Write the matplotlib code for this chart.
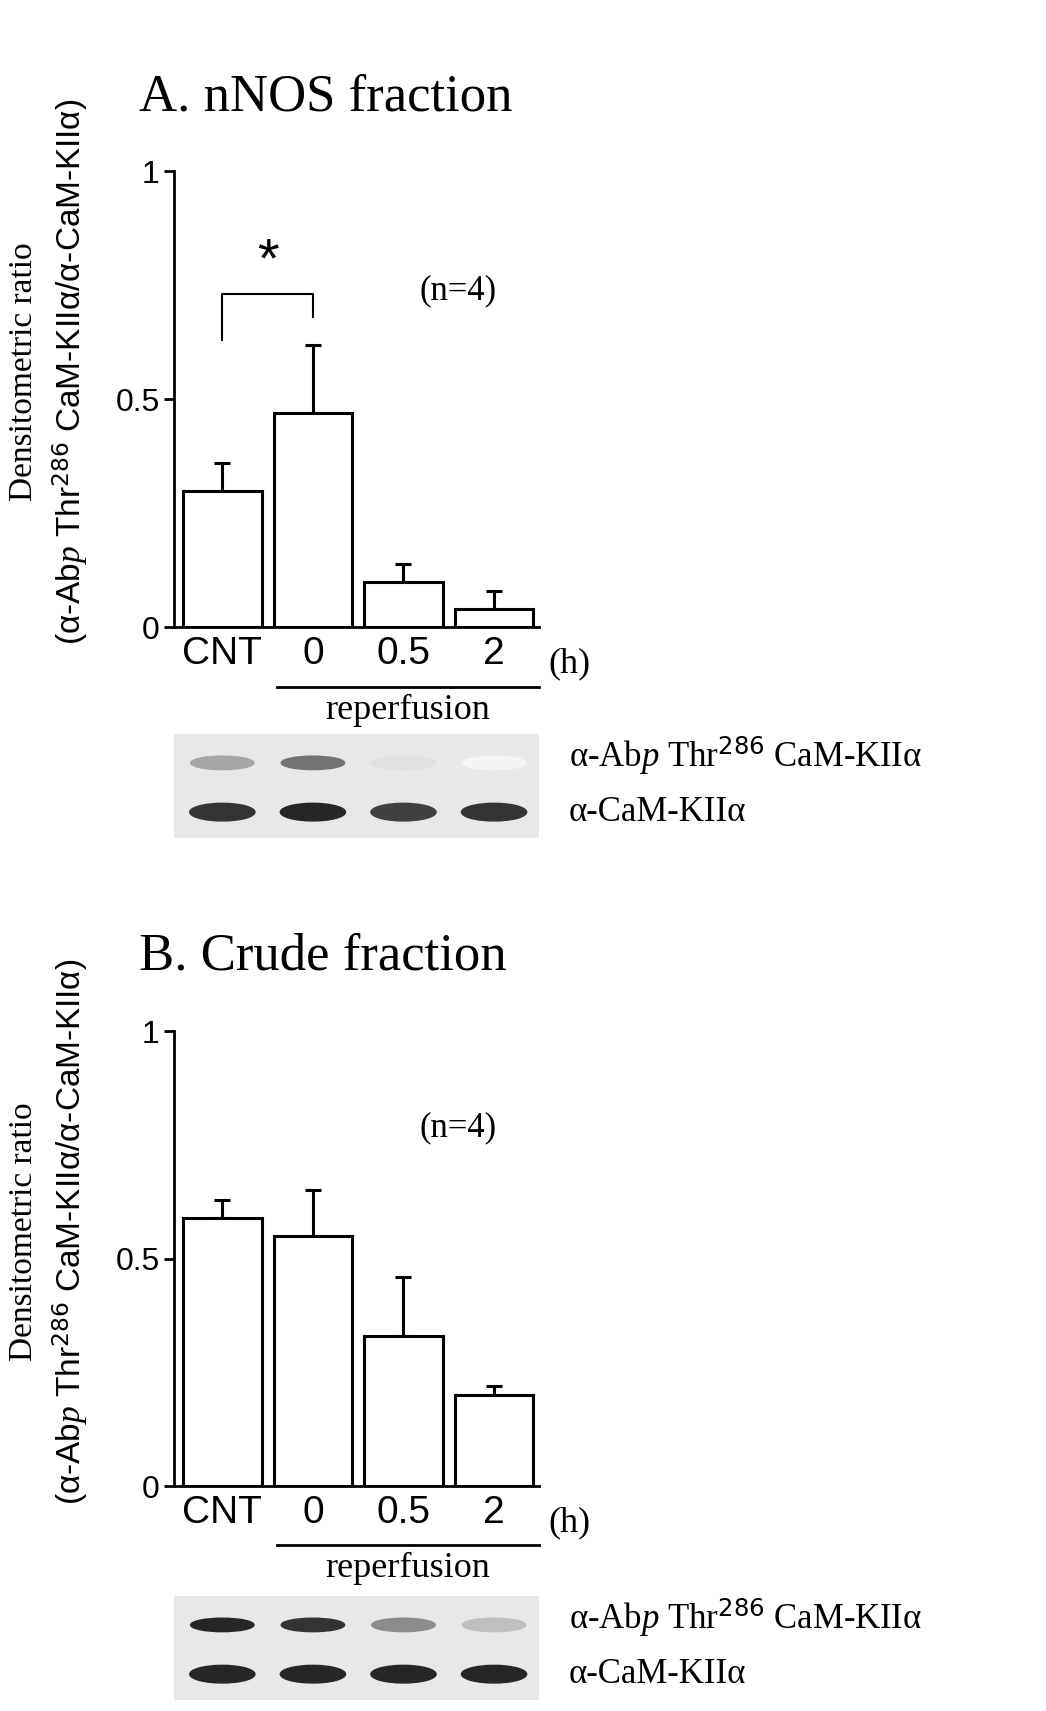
import matplotlib.pyplot as plt
from matplotlib.patches import Rectangle, Ellipse

groups = ["CNT", "0", "0.5", "2"]
nnos_mean = [0.30, 0.47, 0.10, 0.04]
nnos_err = [0.06, 0.15, 0.04, 0.04]
crude_mean = [0.59, 0.55, 0.33, 0.20]
crude_err = [0.04, 0.10, 0.13, 0.02]
# band darkness for blots (0 = none, 1 = dark)
nnos_phos = [0.35, 0.55, 0.12, 0.04]
nnos_total = [0.8, 0.85, 0.75, 0.8]
crude_phos = [0.85, 0.8, 0.45, 0.25]
crude_total = [0.85, 0.85, 0.85, 0.85]

W, H = 960.0, 1568.0
fig = plt.figure(figsize=(10.46, 17.11), dpi=100)
serif = "Liberation Serif"
sans = "Liberation Sans"
plt.rcParams["mathtext.fontset"] = "custom"
plt.rcParams["mathtext.it"] = "Liberation Serif:italic"
plt.rcParams["mathtext.rm"] = "Liberation Serif"


def fx(px):
    return px / W


def fy(py):
    return 1 - py / H


def panel(top, bottom, title, mean, err, label_n_y, star, phos, total, blot_y):
    ax = fig.add_axes([fx(160), fy(bottom), fx(495) - fx(160), fy(top) - fy(bottom)])
    x = range(len(groups))
    ax.bar(x, mean, width=0.87, color="white", edgecolor="black", linewidth=2.2, zorder=2)
    ax.errorbar(x, mean, yerr=[[0] * 4, err], fmt="none", ecolor="black",
                elinewidth=2.2, capsize=6, capthick=2.2, zorder=1)
    ax.set_xlim(-0.53, 3.5)
    ax.set_ylim(0, 1)
    for s in ["top", "right"]:
        ax.spines[s].set_visible(False)
    for s in ["left", "bottom"]:
        ax.spines[s].set_linewidth(2)
    ax.set_yticks([0, 0.5, 1])
    ax.set_yticklabels(["0", "0.5", "1"], fontsize=23, family=sans)
    ax.tick_params(axis="y", length=7, width=2, direction="out")
    ax.set_xticks(list(x))
    ax.set_xticklabels(groups, fontsize=28, family=sans)
    ax.tick_params(axis="x", length=0, pad=6)
    ax.text(3.6, -0.08, "(h)", fontsize=26, family=serif, va="center", clip_on=False)
    ax.plot([0.6, 3.5], [-0.13, -0.13], color="black", lw=2, clip_on=False)
    ax.text(2.05, -0.2, "reperfusion", fontsize=26, family=serif, ha="center", clip_on=False)
    ax.text(2.6, label_n_y, "(n=4)", fontsize=25, family=serif, ha="center")
    if star:
        ax.plot([0, 0, 1, 1], [0.63, 0.73, 0.73, 0.68], color="black", lw=1.5)
        ax.text(0.5, 0.8, "*", fontsize=40, ha="center", va="center", family=sans)
    fig.text(fx(128), fy(top - 68), title, fontsize=38, family=serif, va="center")
    fig.text(fx(22), fy((top + bottom) / 2 - 25), "Densitometric ratio", rotation=90,
             fontsize=24, family=serif, ha="center", va="center")
    fig.text(fx(64), fy((top + bottom) / 2 - 25),
             "(α-Ab$\\it{p}$ Thr$^{\\mathsf{286}}$ CaM-KIIα/α-CaM-KIIα)",
             rotation=90, fontsize=24, family=sans, ha="center", va="center")
    # blot
    bx = fig.add_axes([fx(160), fy(blot_y + 95), fx(495) - fx(160), fy(blot_y) - fy(blot_y + 95)])
    bx.set_xlim(-0.53, 3.5)
    bx.set_ylim(0, 2)
    bx.axis("off")
    bx.add_patch(Rectangle((-0.53, 0), 4.03, 2, color="#e8e8e8"))
    for i in range(4):
        c = 1 - phos[i]
        bx.add_patch(Ellipse((i, 1.45), 0.7, 0.26, color=(c, c, c)))
        c = 1 - total[i]
        bx.add_patch(Ellipse((i, 0.5), 0.72, 0.34, color=(c, c, c)))
    fig.text(fx(522), fy(blot_y + 20), "α-Ab$\\it{p}$ Thr$^{\\mathsf{286}}$ CaM-KIIα",
             fontsize=25, family=serif, va="center")
    fig.text(fx(522), fy(blot_y + 72), "α-CaM-KIIα", fontsize=25,
             family=serif, va="center")


panel(157, 575, "A. nNOS fraction", nnos_mean, nnos_err, 0.72, True,
      nnos_phos, nnos_total, 673)
panel(945, 1362, "B. Crude fraction", crude_mean, crude_err, 0.77, False,
      crude_phos, crude_total, 1463)

fig.savefig("out.png", dpi=100)
